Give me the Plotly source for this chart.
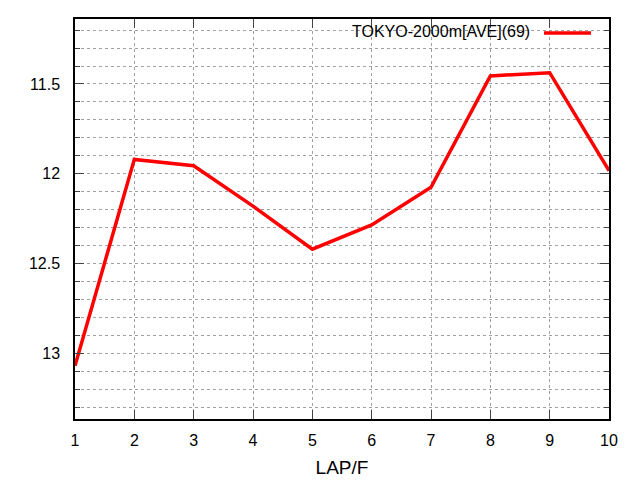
import plotly.graph_objects as go

laps = [1, 2, 3, 4, 5, 6, 7, 8, 9, 10]
times = [13.07, 11.92, 11.955, 12.18, 12.42, 12.285, 12.075, 11.455, 11.437, 11.983]
series_name = "TOKYO-2000m[AVE](69)"
x_ticks = [1, 2, 3, 4, 5, 6, 7, 8, 9, 10]
y_ticks = [11.5, 12, 12.5, 13]
y_tick_text = ["11.5", "12", "12.5", "13"]

FONT = "Liberation Sans, Arial, sans-serif"
OFF = 8  # browser default body margin
L, R, T, B = 75 - OFF, 31, 19 - OFF, 61
W, H = 640 - OFF, 480 - OFF
PW, PH = W - L - R, H - T - B

def px(x):
    return (x - OFF - L) / PW

def py(y):
    return (H - B - (y - OFF)) / PH

fig = go.Figure()
fig.add_trace(go.Scatter(x=laps, y=times, mode="lines", name=series_name,
                         line=dict(color="#ff0000", width=3.5), showlegend=False))

grid = dict(showgrid=True, gridcolor="#a0a0a0", griddash="dot", gridwidth=1)

fig.update_layout(
    width=W, height=H,
    margin=dict(l=L, r=R, t=T, b=B, autoexpand=False),
    paper_bgcolor="white", plot_bgcolor="white",
    font=dict(family=FONT, size=16, color="black"),
    xaxis=dict(range=[1, 10], tickvals=x_ticks, ticks="inside", ticklen=9,
               showline=True, linecolor="black", linewidth=1.5, mirror="ticks",
               zeroline=False, ticklabelstandoff=6, automargin=False,
               title=dict(text="LAP/F", standoff=13), **grid),
    yaxis=dict(range=[13.366, 11.138], tickvals=y_ticks, ticktext=y_tick_text,
               ticks="inside", ticklen=9, showline=True, linecolor="black",
               linewidth=1.5, mirror="ticks", zeroline=False, ticklabelstandoff=10,
               automargin=False,
               minor=dict(dtick=0.1, ticks="inside", ticklen=5, showgrid=True,
                          gridcolor="#a0a0a0", griddash="dot", gridwidth=1),
               **grid),
)

fig.add_annotation(xref="paper", yref="paper", x=px(532), y=py(32),
                   text=series_name, showarrow=False, xanchor="right", yanchor="middle",
                   font=dict(family=FONT, size=16, color="black"))
fig.add_shape(type="line", xref="paper", yref="paper",
              x0=px(544), x1=px(591), y0=py(33), y1=py(33),
              line=dict(color="#ff0000", width=3.5))

fig.write_html("out.html")
